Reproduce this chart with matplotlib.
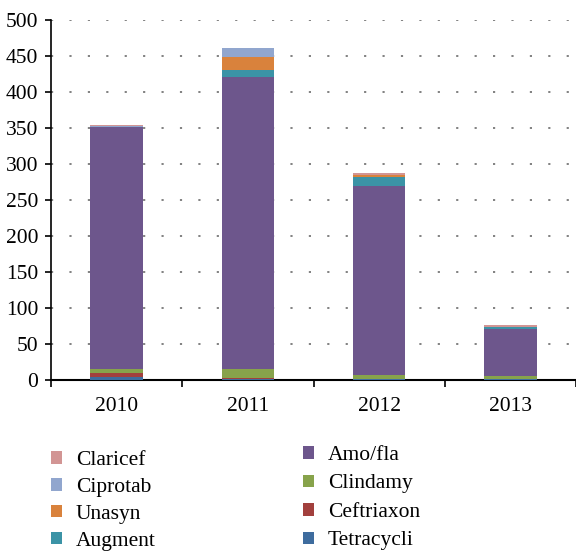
import matplotlib
matplotlib.use("Agg")
import matplotlib.pyplot as plt
from matplotlib.patches import Patch
import numpy as np

years = ["2010", "2011", "2012", "2013"]
series_names = ["Tetracycli", "Ceftriaxon", "Clindamy", "Amo/fla", "Augment", "Unasyn", "Ciprotab", "Claricef"]
tetracycli = [4, 1, 1.5, 1.5]
ceftriaxon = [6, 2, 0.5, 0]
clindamy = [5, 12, 4.5, 4]
amo_fla = [337, 406, 263, 65.5]
augment = [0, 10, 12.5, 2.5]
unasyn = [0, 18, 2.5, 0]
ciprotab = [1, 12, 0, 0]
claricef = [1, 0, 3, 3.5]
values = [tetracycli, ceftriaxon, clindamy, amo_fla, augment, unasyn, ciprotab, claricef]
colors = ["#3E6C9E", "#A2403D", "#87A34B", "#6D568C", "#3B93A6", "#D9823C", "#91A6CE", "#D29594"]

plt.rcParams['font.family'] = ['Liberation Serif', 'DejaVu Serif']
fig = plt.figure(figsize=(5.76, 5.52), dpi=100)
ax = fig.add_axes([51/576, 1-380/552, 1-51/576, 360/552])

x = np.arange(len(years))
bottom = np.zeros(len(years))
for name, vals, c in zip(series_names, values, colors):
    ax.bar(x, vals, width=0.4, bottom=bottom, color=c, label=name, zorder=3)
    bottom += np.array(vals)

ax.set_xlim(-0.5, 3.5)
ax.set_ylim(0, 500)
ax.set_yticks(range(0, 501, 50))
ax.set_xticks(x)
ax.set_xticklabels(years)
ax.set_xticks(np.arange(-0.5, 4.0, 1.0), minor=True)
ax.tick_params(axis='x', which='major', length=0, pad=12, labelsize=15.5)
ax.tick_params(axis='x', which='minor', length=5, width=1.2, direction='out')
ax.tick_params(axis='y', length=4, width=1.2, direction='out', labelsize=15.5, pad=5)
for s in ['top', 'right']:
    ax.spines[s].set_visible(False)
ax.spines['left'].set_linewidth(1.2)
ax.spines['bottom'].set_linewidth(1.5)
ax.yaxis.grid(True, linestyle=(0, (1.2, 9)), color='#777777', linewidth=1.3, zorder=0)
ax.set_axisbelow(True)

def leg_handles(names):
    return [Patch(facecolor=colors[series_names.index(n)], edgecolor='none', label=n) for n in names]

left_names = ["Claricef", "Ciprotab", "Unasyn", "Augment"]
right_names = ["Amo/fla", "Clindamy", "Ceftriaxon", "Tetracycli"]
common = dict(frameon=False, fontsize=15.5, handlelength=0.51, handleheight=0.51,
              handletextpad=0.65, borderpad=0, borderaxespad=0, loc='upper left')
fig.legend(handles=leg_handles(left_names), bbox_to_anchor=(51/576, 1-451/552), labelspacing=0.37, **common)
fig.legend(handles=leg_handles(right_names), bbox_to_anchor=(303/576, 1-446/552), labelspacing=0.44, **common)

fig.savefig("out.png", dpi=100)
